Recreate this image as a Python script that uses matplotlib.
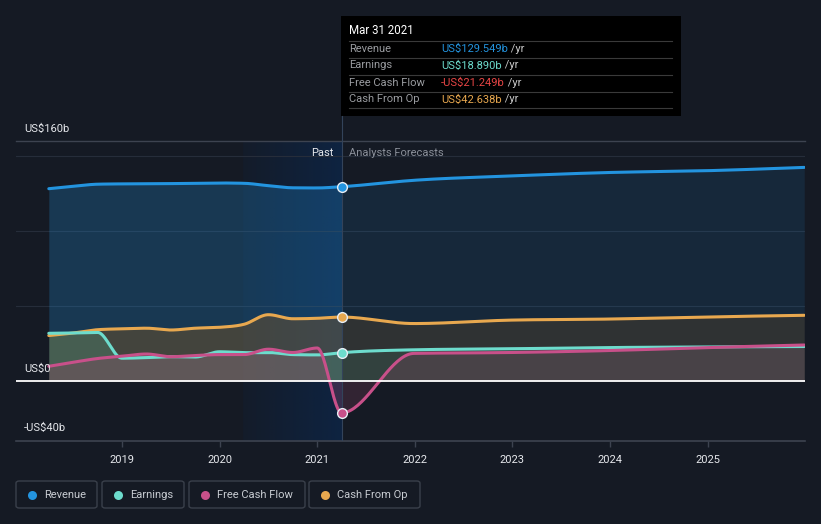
import numpy as np
import matplotlib.pyplot as plt
from matplotlib.patches import Rectangle, FancyBboxPatch
from matplotlib.lines import Line2D

plt.rcParams['font.family'] = ['Roboto', 'DejaVu Sans']

# decimal years: trailing-twelve-month quarter ends, then annual analyst forecasts
past_x = [2018.25, 2018.5, 2018.75, 2019.0, 2019.25, 2019.5, 2019.75,
          2020.0, 2020.25, 2020.5, 2020.75, 2021.0, 2021.25]
fcst_x = [2021.99, 2022.99, 2023.99, 2024.99, 2025.99]

# US$ billions
revenue_past = [128.2, 129.8, 131.2, 131.4, 131.4, 131.6, 131.8, 132.0, 131.8, 130.2, 128.8, 128.7, 129.549]
revenue_fcst = [133.8, 136.7, 139.0, 140.2, 142.4]
earnings_past = [31.8, 32.0, 32.4, 15.2, 15.6, 16.2, 16.0, 19.5, 18.9, 19.0, 17.6, 17.4, 18.89]
earnings_fcst = [20.8, 21.5, 22.3, 22.7, 23.0]
fcf_past = [9.8, 12.5, 15.0, 16.5, 18.0, 16.2, 17.0, 17.6, 17.6, 21.2, 19.0, 22.0, -21.249]
fcf_fcst = [18.4, 19.0, 20.3, 22.3, 24.0]
cfo_past = [30.3, 32.0, 34.2, 34.8, 35.2, 34.0, 35.2, 35.8, 37.8, 44.2, 41.5, 41.8, 42.638]
cfo_fcst = [38.3, 40.6, 41.3, 42.7, 43.8]

names = ['Revenue', 'Earnings', 'Free Cash Flow', 'Cash From Op']
colors = ['#2394df', '#6ddccd', '#c8508a', '#e8a84f']
values_txt = ['US$129.549b', 'US$18.890b', '-US$21.249b', 'US$42.638b']
value_colors = ['#2394df', '#6ddccd', '#e84545', '#e8a84f']

now_x = 2021.25
band_start = 2020.24
bg = '#151a24'
W, H = 821, 524


def smooth(x, y, n=40):
    # monotone cubic curve through the points (like d3 curveMonotoneX)
    x = np.asarray(x, float)
    y = np.asarray(y, float)
    h = np.diff(x)
    s = np.diff(y) / h
    m = np.zeros_like(y)
    for i in range(1, len(x) - 1):
        p = (s[i - 1] * h[i] + s[i] * h[i - 1]) / (h[i - 1] + h[i])
        m[i] = (np.sign(s[i - 1]) + np.sign(s[i])) * min(abs(s[i - 1]), abs(s[i]), 0.5 * abs(p))
    m[0] = (3 * s[0] - m[1]) / 2
    m[-1] = (3 * s[-1] - m[-2]) / 2
    xs, ys = [], []
    for i in range(len(x) - 1):
        t = np.linspace(0, 1, n, endpoint=(i == len(x) - 2))
        h00 = 2 * t**3 - 3 * t**2 + 1
        h10 = t**3 - 2 * t**2 + t
        h01 = -2 * t**3 + 3 * t**2
        h11 = t**3 - t**2
        xs.append(x[i] + t * h[i])
        ys.append(h00 * y[i] + h10 * h[i] * m[i] + h01 * y[i + 1] + h11 * h[i] * m[i + 1])
    return np.concatenate(xs), np.concatenate(ys)


fig = plt.figure(figsize=(W / 100, H / 100), dpi=100, facecolor=bg)
ax = fig.add_axes([16 / W, 1 - 441 / H, (805 - 16) / W, 300 / H])
ax.set_facecolor(bg)
ax.set_xlim(2017.914, 2025.998)
ax.set_ylim(-40, 160)
for sp in ax.spines.values():
    sp.set_visible(False)

# past highlight band (horizontal gradient)
grad = np.zeros((2, 200, 4))
grad[..., :3] = np.array([10, 42, 85]) / 255
grad[..., 3] = np.linspace(0.12, 0.6, 200)
ax.imshow(grad, extent=[band_start, now_x, -40, 160], aspect='auto', zorder=0.5, interpolation='bilinear')

# grid
for gy in [50, 100, 150]:
    ax.axhline(gy, color='#262d3a', lw=0.8, zorder=1)
ax.axhline(160, color='#3d4350', lw=1.0, zorder=1, clip_on=False)
ax.axhline(-40, color='#3d4350', lw=1.2, zorder=1, clip_on=False)

series = [
    (revenue_past + revenue_fcst, colors[0], '#2394df', 0.25, 0.12),
    (cfo_past + cfo_fcst, colors[3], '#965b18', 0.35, 0.2),
    (earnings_past + earnings_fcst, colors[1], '#4fae90', 0.25, 0.12),
    (fcf_past + fcf_fcst, colors[2], '#9a4a6a', 0.3, 0.22),
]
xs_all = past_x + fcst_x
for vals, lc, fc, a_past, a_fcst in series:
    xd, yd = smooth(xs_all, vals)
    past = xd <= now_x + 1e-9
    fut = xd >= now_x - 1e-9
    ax.fill_between(xd[past], yd[past], 0, color=fc, alpha=a_past, lw=0, zorder=2)
    ax.fill_between(xd[fut], yd[fut], 0, color=fc, alpha=a_fcst, lw=0, zorder=2)

for vals, lc, fc, a_past, a_fcst in series:
    xd, yd = smooth(xs_all, vals)
    ax.plot(xd, yd, color=lc, lw=2.2, zorder=4, solid_capstyle='round')

ax.axhline(0, color='white', lw=1.3, zorder=5)

# markers at the selected date
for vals, lc, fc, a_past, a_fcst in series:
    ax.plot([now_x], [vals[len(past_x) - 1]], 'o', ms=7, mfc=lc, mec='#e8eef5', mew=1.0, zorder=6)

ax.axvline(now_x, color='#33435a', lw=0.8, zorder=3)
fig.add_artist(Line2D([341.5 / W, 341.5 / W], [1 - 116 / H, 1 - 141 / H], color='#33435a', lw=0.8))

# x ticks
years = [2019, 2020, 2021, 2022, 2023, 2024, 2025]
ax.set_xticks(years)
ax.set_xticklabels([str(y) for y in years], color='#e6e8ec', fontsize=8)
ax.tick_params(axis='x', length=4, color='#3d4350', width=1, pad=6)
ax.set_yticks([])


def px_text(x, y, s, **kw):
    return fig.text(x / W, 1 - y / H, s, **kw)


# y labels
px_text(24, 129, 'US$160b', color='#e6e8ec', fontsize=8, va='center')
px_text(24, 369, 'US$0', color='#e6e8ec', fontsize=8, va='center')
px_text(24, 428, '-US$40b', color='#e6e8ec', fontsize=8, va='center')
px_text(333, 153, 'Past', color='#e6e8ec', fontsize=8, va='center', ha='right')
px_text(349, 153, 'Analysts Forecasts', color='#8a8f99', fontsize=8, va='center')

# tooltip
fig.add_artist(Rectangle((341 / W, 1 - 116 / H), 340 / W, 100 / H, facecolor='black', edgecolor='none'))
px_text(349, 31, 'Mar 31 2021', color='white', fontsize=8.3, va='center')
for ly in [40.5, 57.5, 74.5, 91.5, 108.5]:
    fig.add_artist(Line2D([349 / W, 672 / W], [1 - ly / H, 1 - ly / H], color='#3a3a3a', lw=0.8))
for i, (nm, vt, vc) in enumerate(zip(names, values_txt, value_colors)):
    yy = 48.5 + 17 * i
    px_text(349, yy, nm, color='#9a9ca0', fontsize=8, va='center')
    t = px_text(441, yy, vt, color=vc, fontsize=8, va='center')
    fig.add_artist(plt.Annotation(' /yr', xy=(1, 0.5), xycoords=t, va='center', ha='left',
                                  color='#c8c8c8', fontsize=8))

# legend boxes
boxes = [(16, 97), (102, 184), (189, 305), (309, 420)]
for (x0, x1), nm, c in zip(boxes, names, colors):
    fig.add_artist(FancyBboxPatch((x0 / W, 1 - 508 / H), (x1 - x0) / W, 27 / H,
                                  boxstyle='round,pad=0,rounding_size=0.004',
                                  facecolor='none', edgecolor='#3a404b', lw=1))
    fig.add_artist(Line2D([(x0 + 16) / W], [1 - 494.5 / H], marker='o', ms=6.5,
                          mfc=c, mec='none', ls='none'))
    px_text(x0 + 28, 494.5, nm, color='#c8ccd2', fontsize=8, va='center')

fig.savefig('out.png', dpi=100, facecolor=bg)
